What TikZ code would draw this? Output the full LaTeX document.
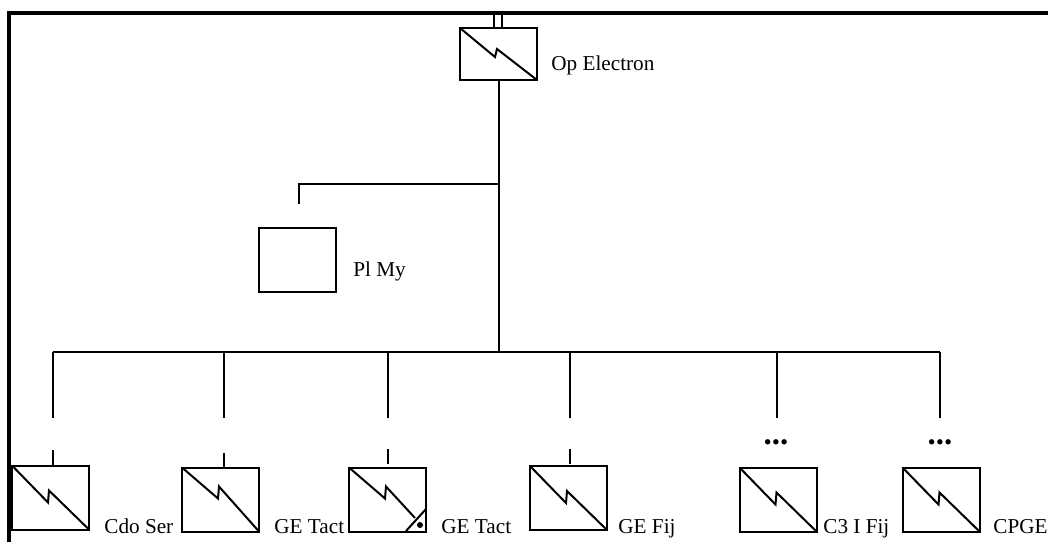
\documentclass[tikz,border=0pt]{standalone}
\usepackage{fontspec}
\setmainfont{Liberation Serif}
\usetikzlibrary{positioning}
\tikzset{
  frm/.style={line width=2pt,line cap=butt},
  wire/.style={line width=1pt},
  unit/.style={draw,line width=1pt,rectangle,inner sep=0pt,outer sep=0pt,minimum width=38.5pt,minimum height=32pt},
  topunit/.style={unit,minimum height=26pt},
  lbl/.style={font=\fontsize{10.6}{12}\selectfont,inner sep=0pt,anchor=base west},
  dots/.style={font=\fontsize{16.5}{16.5}\selectfont\bfseries,inner sep=0pt,anchor=base},
}
\newcommand{\bolt}[4]{\draw[wire] (#1.north west) -- ++(#2,#3) -- ++(#4,-12) -- (#1.south east);}
\begin{document}
\begin{tikzpicture}[x=0.5pt,y=-0.5pt]
    \useasboundingbox (0,0) rectangle (1048,542);
    % --- frame
    \coordinate (fa) at (9,542);
    \coordinate (fb) at (9,12.5);
    \coordinate (fc) at (1048,12.5);
    \draw[frm] (fa) -- (fb) -- (fc);
    % --- top unit
    \node[topunit] at (498.5,54) (op) {};
    \node[lbl] at (551,70) (oplbl) {Op Electron};
    \coordinate (sa) at (494,13);
    \coordinate (sb) at (502,13);
    \coordinate (sc) at (494,28);
    \coordinate (sd) at (502,28);
    \draw[wire] (sa) -- (sc);
    \draw[wire] (sb) -- (sd);
    % --- staff box
    \node[unit] at (297.5,260) (pl) {};
    \node[lbl] at (353,276) (pllbl) {Pl My};
    % --- lower units
    \node[unit] at (50.5,497.5) (cdo) {};
    \node[unit] at (220.5,499.5) (get) {};
    \node[unit] at (387.5,499.5) (gec) {};
    \node[unit] at (568.5,498) (gef) {};
    \node[unit] at (778,499.5) (cti) {};
    \node[unit] at (941,499.5) (cpg) {};
    \node[lbl] at (104,533) (cdolbl) {Cdo Ser};
    \node[lbl] at (274,533) (getlbl) {GE Tact};
    \node[lbl] at (441,533) (geclbl) {GE Tact};
    \node[lbl] at (618,533) (geflbl) {GE Fij};
    \node[lbl] at (823,533) (ctilbl) {C3 I Fij};
    \node[lbl] at (993,533) (cpglbl) {CPGE};
    \node[dots] at (776,444) (dta) {...};
    \node[dots] at (940,444) (dtb) {...};
    % --- bolts
    \draw[wire] (op.north west) -- ++(35,29) -- ++(2,-8) -- (op.south east);
    \bolt{get}{36}{31}{1}
    \foreach \u in {cdo,gef,cti,cpg} {\bolt{\u}{36}{37}{1}}
    % --- the third one has a corner cut off
    \coordinate (ga) at (415,518);
    \coordinate (gb) at (406,531);
    \coordinate (gc) at (426,509);
    \draw[wire] (gec.north west) -- ++(36,31) -- ++(1,-12) -- (ga);
    \draw[wire] (gb) -- (gc);
    \node[circle,fill,inner sep=0pt,minimum size=3pt] at (420,525) (gd) {};
    % --- wiring
    \coordinate (jp) at (498.5,184);
    \coordinate (pa) at (299,184);
    \coordinate (pb) at (299,204);
    \coordinate (bus) at (498.5,352);
    \draw[wire] (op.south) -- (bus);
    \draw[wire] (jp) -- (pa) -- (pb);
    \coordinate (bl) at (52.5,352);
    \coordinate (br) at (940,352);
    \draw[wire] (bl) -- (br);
    \foreach \x/\e/\a/\b in {52.5/418/450/466,224/418/453/468,387.5/418/449/464,570/418/449/464,777/418/0/0,940/418/0/0} {
      \coordinate (da) at (\x,352);
      \coordinate (db) at (\x,\e);
      \draw[wire] (da) -- (db);
      \ifnum\a>0
        \coordinate (ea) at (\x,\a);
        \coordinate (eb) at (\x,\b);
        \draw[wire] (ea) -- (eb);
      \fi
    }
\end{tikzpicture}
\end{document}
